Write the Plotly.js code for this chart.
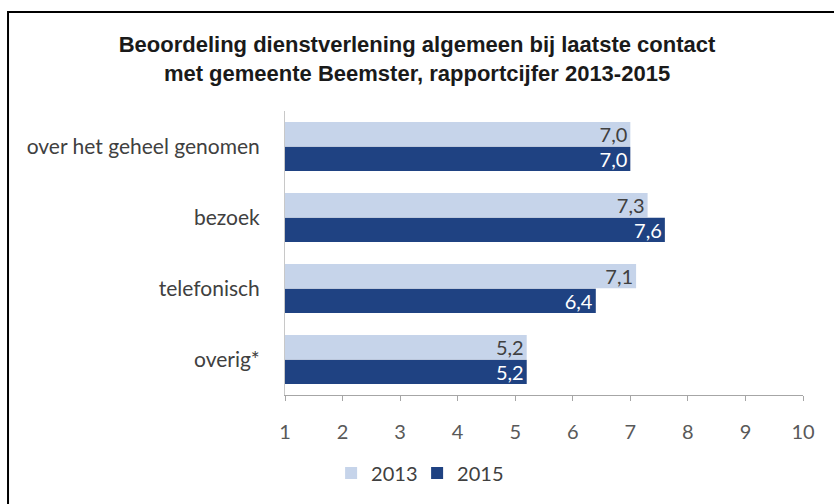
<!DOCTYPE html>
<html>
<head>
<meta charset="utf-8">
<script src="https://cdn.plot.ly/plotly-3.0.1.min.js"></script>
<style>
  html, body { margin: 0; padding: 0; background: #ffffff; }
  #chart { width: 834px; height: 504px; }
</style>
</head>
<body>
<div id="chart"></div>
<script>
const categories = ["over het geheel genomen", "bezoek", "telefonisch", "overig*"];
const seriesNames = ["2013", "2015"];
const values2013 = [7.0, 7.3, 7.1, 5.2];
const values2015 = [7.0, 7.6, 6.4, 5.2];
const tickValues = [1, 2, 3, 4, 5, 6, 7, 8, 9, 10];
const titleText = "Beoordeling dienstverlening algemeen bij laatste contact<br>met gemeente Beemster, rapportcijfer 2013-2015";

const labelFont = "Lato, 'Open Sans', sans-serif";

const traces = [
  {
    type: "bar", orientation: "h", name: seriesNames[0],
    y: categories, x: values2013,
    marker: { color: "#c6d4ea" },
    texttemplate: "%{x:.1f}", textposition: "inside", insidetextanchor: "end",
    constraintext: "none",
    insidetextfont: { family: labelFont, size: 20, color: "#404040" },
    hoverinfo: "skip"
  },
  {
    type: "bar", orientation: "h", name: seriesNames[1],
    y: categories, x: values2015,
    marker: { color: "#1f4282" },
    texttemplate: "%{x:.1f}", textposition: "inside", insidetextanchor: "end",
    constraintext: "none",
    insidetextfont: { family: labelFont, size: 20, color: "#ffffff" },
    hoverinfo: "skip"
  }
];

const layout = {
  width: 834, height: 504,
  margin: { l: 285, r: 31, t: 111, b: 106, pad: 0 },
  paper_bgcolor: "#ffffff", plot_bgcolor: "#ffffff",
  separators: ", ",
  barmode: "group", bargap: 0.3, bargroupgap: 0.02,
  title: {
    text: titleText,
    font: { family: "'Liberation Sans', Arial, sans-serif", size: 22, color: "#1a1a1a", weight: "bold" },
    x: 0.5, xref: "container", xanchor: "center",
    y: 1 - 52 / 504, yref: "container", yanchor: "top"
  },
  xaxis: {
    range: [1, 10], tickvals: tickValues, ticktext: tickValues.map(String),
    showgrid: false, zeroline: false,
    showline: true, linecolor: "#a6a6a6", linewidth: 1,
    ticks: "outside", ticklen: 5, tickcolor: "#a6a6a6",
    ticklabelstandoff: 14,
    tickfont: { family: labelFont, size: 20, color: "#595959" },
    fixedrange: true
  },
  yaxis: {
    autorange: "reversed", type: "category",
    showgrid: false, zeroline: false,
    showline: true, linecolor: "#c8c8c8", linewidth: 1,
    ticks: "", ticklabelstandoff: 20,
    tickfont: { family: labelFont, size: 21, color: "#404040" },
    fixedrange: true
  },
  showlegend: true,
  legend: {
    orientation: "h", x: 0.089, xanchor: "left", y: -0.275, yanchor: "middle",
    font: { family: labelFont, size: 20, color: "#404040" },
    entrywidth: 41, entrywidthmode: "pixels",
    traceorder: "normal", bgcolor: "rgba(0,0,0,0)"
  },
  shapes: [
    {
      type: "path", xref: "paper", yref: "paper",
      path: "M -0.5347 -0.5 L -0.5347 1.3484 L 1.2 1.3484",
      line: { color: "#000000", width: 2 }, layer: "above"
    }
  ]
};

Plotly.newPlot("chart", traces, layout, { displayModeBar: false, staticPlot: true });
</script>
</body>
</html>
